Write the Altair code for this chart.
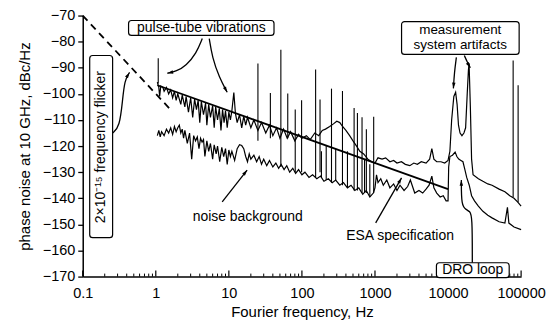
import altair as alt
import pandas as pd

# ---------------- data ----------------
upper_trace = [
    (1.05, -95.5), (1.1, -97.5), (1.13, -101), (1.17, -97), (1.25, -97.5), (1.3, -99), (1.4, -97.5),
    (1.5, -100), (1.6, -98.5), (1.7, -101.5), (1.8, -99), (1.9, -102.5), (2.0, -100), (2.2, -104),
    (2.3, -100.5), (2.5, -105), (2.6, -101), (2.8, -107), (3.0, -101.5), (3.2, -109), (3.4, -102),
    (3.6, -106), (3.8, -102.5), (4.0, -111), (4.2, -103), (4.5, -108), (4.8, -103.5), (5.0, -112),
    (5.3, -104), (5.6, -109), (6.0, -104.5), (6.3, -113), (6.6, -105), (7.0, -110), (7.4, -105.5),
    (7.8, -114), (8.2, -106), (8.6, -111), (9.0, -106.5), (9.5, -113), (10, -107), (10.5, -110),
    (11, -106.5), (11.7, -99.5), (12.3, -107.5), (13, -111), (14, -108), (15, -113), (16, -108.5),
    (17, -112), (18, -109), (20, -113), (22, -110), (25, -114), (28, -111), (32, -115), (36, -112),
    (40, -116), (45, -113), (50, -117), (56, -113.5), (63, -117), (70, -114.5), (80, -118),
    (90, -115.5), (100, -117), (115, -116), (130, -117.5), (150, -115), (170, -116), (190, -114),
    (210, -113.5), (240, -112.5), (270, -111.5), (300, -110.5), (330, -111), (360, -112.5),
    (400, -114), (450, -116), (500, -118), (560, -120), (620, -122), (700, -123), (800, -125),
    (900, -126), (1000, -126.5), (1100, -124.5), (1250, -125), (1400, -124.5), (1600, -126),
    (1800, -125.5), (2000, -126.5), (2300, -126), (2600, -127), (3000, -127.5), (3400, -126.5),
    (3800, -127), (4300, -126), (5000, -126.5), (5600, -125), (6000, -121), (6400, -125),
    (7000, -126), (8000, -126), (9000, -126.5), (10000, -125.5), (10600, -122), (11200, -110),
    (12000, -101), (12700, -99.4), (13300, -104), (13900, -112), (14600, -115), (15500, -116),
    (16500, -115), (17400, -113), (18300, -100), (19000, -91), (19400, -88.3), (20200, -105),
    (21000, -125), (22000, -131), (26000, -132.5), (30000, -133.5), (35000, -134.5),
    (40000, -135), (50000, -136.5), (60000, -137.5), (70000, -139), (80000, -140),
    (90000, -141.5), (100000, -143),
]

lower_trace = [
    (1.05, -116), (1.1, -114), (1.15, -116.5), (1.2, -114.5), (1.3, -116), (1.4, -113.5),
    (1.5, -115), (1.6, -113), (1.7, -115.5), (1.8, -112.5), (1.9, -114.5), (2.0, -113),
    (2.1, -112), (2.2, -115), (2.3, -113.5), (2.4, -117), (2.5, -114), (2.7, -119), (2.9, -115),
    (3.1, -125), (3.3, -116), (3.5, -118), (3.7, -116.5), (3.9, -121), (4.1, -117), (4.3, -118.5),
    (4.5, -117.5), (4.7, -124), (5.0, -118), (5.3, -122), (5.6, -119), (6.0, -125), (6.3, -119.5),
    (6.7, -123), (7.0, -120), (7.5, -126), (8.0, -120.5), (8.5, -124), (9.0, -121), (9.5, -127),
    (10, -121.5), (10.5, -124), (11, -122), (12, -125.5), (13, -121), (14, -119.5), (15, -119.8),
    (16, -121), (17, -124), (18, -126), (19, -123), (20, -125), (22, -123.5), (24, -126),
    (26, -124), (28, -127), (30, -125), (33, -127.5), (36, -125.5), (40, -128), (44, -126.5),
    (48, -128.5), (52, -127), (57, -129), (62, -127.5), (68, -130), (75, -128.5), (82, -130.5),
    (90, -129), (100, -131), (110, -130), (125, -132), (140, -131), (160, -132.5), (180, -131.5),
    (200, -133.5), (230, -132.5), (260, -134), (290, -133), (330, -135), (370, -134),
    (420, -136), (470, -135), (530, -137), (600, -136), (680, -138.5), (760, -137),
    (850, -139.5), (950, -138), (1000, -136), (1050, -131), (1100, -134), (1200, -132.5),
    (1300, -135), (1450, -133), (1600, -136), (1800, -134.5), (2000, -137), (2200, -135),
    (2500, -137), (2800, -135.5), (3050, -133), (3500, -138), (4000, -137), (4500, -138),
    (5000, -136.5), (5500, -135), (6000, -131.5), (6400, -136), (7000, -138), (7800, -139.5),
    (8600, -139), (9400, -141), (10000, -141), (10200, -128), (10600, -124), (11500, -123.5),
    (12500, -122.3), (13200, -124), (14000, -125), (15000, -125.5), (16000, -126),
    (17000, -129), (18000, -132), (19500, -135), (21000, -139), (23000, -141), (26000, -143),
    (30000, -145), (35000, -146.5), (40000, -147.5), (50000, -149), (60000, -149.5),
    (65000, -143.5), (68000, -149.5), (80000, -151), (100000, -152),
]

esa_line = [(1.05, -96.7), (10000, -136.5)]
flicker_line = [(0.1, -70), (1.65, -106.5)]

# spurs: (frequency, top, bottom)
spurs = [
    (1.08, -86.4, -96), (25, -88.4, -118), (37, -99.7, -117), (51.5, -83.1, -128),
    (64, -99.9, -117), (81, -106, -130), (99, -102.4, -130), (154, -90.7, -132),
    (177, -102.2, -130), (254, -98, -134), (359, -98.9, -135), (518, -105.4, -137),
    (575, -107.3, -137), (665, -109, -138), (762, -113.6, -138), (960, -108.8, -138),
    (77800, -87.2, -139.5), (91000, -96.7, -141.5),
]
lower_spurs = [
    (185, -122, -132), (215, -120, -133), (290, -121, -133), (420, -122, -136),
    (720, -125, -138), (850, -127, -139.5),
]

x_major = [0.1, 1, 10, 100, 1000, 10000, 100000]
x_minor = [m * 10.0 ** e for e in range(-1, 5) for m in range(2, 10)]
y_ticks = [-170, -160, -150, -140, -130, -120, -110, -100, -90, -80, -70]

# annotations (data coordinates)
boxes = [  # f, f2, db, db2
    (0.424, 41.5, -71.9, -77.6),
    (2311, 94000, -72.3, -84.9),
    (0.1246, 0.2565, -85.3, -155.1),
    (6934, 68700, -164.7, -170.4),
]
labels = [  # f, db, text, angle
    (4.2, -74.9, "pulse-tube vibrations", 0),
    (14700, -75.4, "measurement", 0),
    (14700, -81.2, "system artifacts", 0),
    (0.1787, -120.4, "2×10⁻¹⁵ frequency flicker", 270),
    (21800, -167.6, "DRO loop", 0),
    (18.1, -147.0, "noise background", 0),
    (2203, -154.6, "ESA specification", 0),
]
label_sizes = [14, 13.5, 13.5, 14, 14, 14, 14]
arrows = {
    "a": [(4.33, -78.8), (3.59, -84.5), (2.62, -89.1), (1.91, -91.4), (1.44, -92.1)],
    "b": [(5.39, -78.8), (5.93, -86.0), (7.38, -93.7), (9.49, -99.4)],
    "c": [(0.2565, -115.0), (0.3197, -112.7), (0.3511, -102.4), (0.3739, -94.8), (0.4375, -91.8)],
    "d": [(13000, -86.0), (12210, -91.8), (11830, -97.9)],
    "e": [(16710, -85.3), (18360, -87.9), (20170, -90.0)],
    "f": [(8.11, -141.4), (17.79, -129.2)],
    "g": [(1022, -149.4), (2311, -132.2)],
    "h": [(21480, -164.7), (21480, -146.7), (19800, -145.0), (17790, -144.4), (15210, -142.9),
          (15210, -133.0)],
}
arrow_heads = [  # f, db, angle
    (1.44, -92.1, 258), (9.49, -99.4, 152), (0.4375, -91.8, 32), (11830, -97.9, 184),
    (20170, -90.0, 149), (17.79, -129.2, 38), (2311, -132.2, 30), (15210, -133.0, 0),
]

# ---------------- build tables ----------------
def pairs(rows, name):
    return pd.DataFrame({"f": [r[0] for r in rows], "db": [r[1] for r in rows], "s": name})

traces = pd.concat([pairs(upper_trace, "upper"), pairs(lower_trace, "lower")])
esa_df = pairs(esa_line, "esa")
flk_df = pairs(flicker_line, "flicker")
spur_df = pd.DataFrame({"f": [s[0] for s in spurs + lower_spurs],
                        "db": [s[1] for s in spurs + lower_spurs],
                        "db2": [s[2] for s in spurs + lower_spurs]})
major_df = pd.DataFrame({"f": x_major})
minor_df = pd.DataFrame({"f": x_minor})
box_df = pd.DataFrame({"f": [b[0] for b in boxes], "f2": [b[1] for b in boxes],
                       "db": [b[2] for b in boxes], "db2": [b[3] for b in boxes]})
lab_df = pd.DataFrame({"f": [l[0] for l in labels], "db": [l[1] for l in labels],
                       "t": [l[2] for l in labels], "ang": [l[3] for l in labels],
                       "fs": label_sizes})
arr_rows = []
for k, pts in arrows.items():
    for i, (f, d) in enumerate(pts):
        arr_rows.append({"id": k, "o": i, "f": f, "db": d})
arr_df = pd.DataFrame(arr_rows)
head_df = pd.DataFrame({"f": [h[0] for h in arrow_heads], "db": [h[1] for h in arrow_heads],
                        "ang": [h[2] for h in arrow_heads]})

FONT = "Liberation Sans"
xscale = alt.Scale(type="log", domain=[0.1, 100000])
yscale = alt.Scale(domain=[-170, -70])
xaxis = alt.Axis(title="Fourier frequency, Hz", values=x_major, format="~g", ticks=False,
                 labelPadding=10, titlePadding=5, labelFlush=False, labelOverlap=False,
                 grid=False, domainColor="black", domainWidth=1.5, labelColor="black",
                 titleColor="black", labelFontSize=14.5, titleFontSize=15,
                 titleFontWeight="normal", labelFont=FONT, titleFont=FONT)
yaxis = alt.Axis(title="phase noise at 10 GHz, dBc/Hz", values=y_ticks, tickSize=5,
                 tickColor="black", tickWidth=1.3, labelPadding=3, titlePadding=10,
                 grid=False, domainColor="black", domainWidth=1.5, labelColor="black",
                 titleColor="black", labelFontSize=14.5, titleFontSize=15,
                 titleFontWeight="normal", labelFont=FONT, titleFont=FONT)

def X(field="f"):
    return alt.X(f"{field}:Q", scale=xscale, axis=xaxis)

def Y(field="db"):
    return alt.Y(f"{field}:Q", scale=yscale, axis=yaxis)

trace_layer = alt.Chart(traces).mark_line(color="black", strokeWidth=1.2).encode(
    x=X(), y=Y(), detail="s:N")
esa_layer = alt.Chart(esa_df).mark_line(color="black", strokeWidth=1.8).encode(x=X(), y=Y())
flk_layer = alt.Chart(flk_df).mark_line(color="black", strokeWidth=1.8,
                                        strokeDash=[7, 5]).encode(x=X(), y=Y())
spur_layer = alt.Chart(spur_df).mark_rule(color="black", strokeWidth=1.1).encode(
    x=X(), y=Y(), y2="db2:Q")
major_layer = alt.Chart(major_df).mark_rule(color="black", strokeWidth=1.2).encode(
    x=X(), y=alt.value(262), y2=alt.value(256))
minor_layer = alt.Chart(minor_df).mark_rule(color="black", strokeWidth=1).encode(
    x=X(), y=alt.value(262), y2=alt.value(259))
arrow_layer = alt.Chart(arr_df).mark_line(color="black", strokeWidth=1.3,
                                          interpolate="basis").encode(
    x=X(), y=Y(), detail="id:N", order="o:Q")
head_layer = alt.Chart(head_df).mark_point(
    shape="M0,0L-0.45,1.5L0.45,1.5Z", filled=True, color="black", size=60, opacity=1
).encode(x=X(), y=Y(), angle=alt.Angle("ang:Q", scale=None))
box_layer = alt.Chart(box_df).mark_rect(fill="white", stroke="black", strokeWidth=1.2,
                                        cornerRadius=3).encode(
    x=X(), x2="f2:Q", y=Y(), y2="db2:Q")
text_layer = alt.Chart(lab_df).mark_text(font=FONT, color="black",
                                         align="center", baseline="middle").encode(
    x=X(), y=Y(), text="t:N", angle=alt.Angle("ang:Q", scale=None),
    size=alt.Size("fs:Q", scale=None))

chart = alt.layer(
    trace_layer, esa_layer, flk_layer, spur_layer, major_layer, minor_layer,
    arrow_layer, head_layer, box_layer, text_layer
).properties(
    width=440, height=262, autosize="none",
    padding={"left": 75, "top": 7, "right": 30, "bottom": 48},
    background="white",
).configure_view(stroke=None)

chart.save("out.html", embed_options={"renderer": "svg", "actions": False})
